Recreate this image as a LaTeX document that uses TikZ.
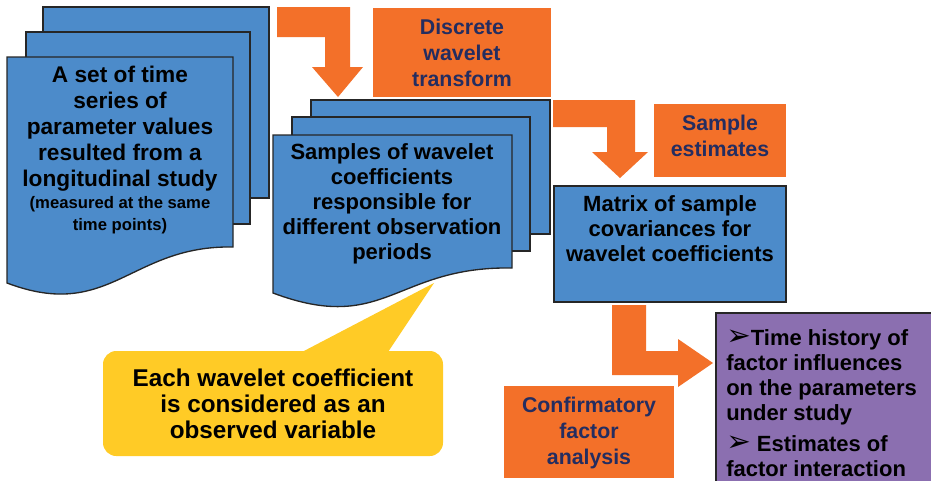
\documentclass[tikz,border=0pt]{standalone}
\usepackage{fontspec}
\setmainfont{Liberation Sans}
\newfontfamily\symfont{DejaVu Sans}
\usetikzlibrary{positioning}
\definecolor{docblue}{RGB}{76,139,202}
\definecolor{steporange}{RGB}{243,112,41}
\definecolor{labelnavy}{RGB}{36,45,96}
\definecolor{noteyellow}{RGB}{255,203,38}
\definecolor{resultpurple}{RGB}{139,111,176}
\newcommand{\smalltext}{\fontsize{12.5}{16.5}\selectfont}
\newcommand{\bulletarrow}{{\symfont\fontsize{22}{18}\selectfont ➢}}

\begin{document}
\begin{tikzpicture}[x=0.75pt,y=-0.75pt,
    sheet/.style={draw=black!85, line width=1pt, fill=docblue},
    bentarrow/.style={fill=steporange, draw=none},
    doctext/.style={font=\bfseries\fontsize{16.5}{18.75}\selectfont, align=center, inner sep=0pt},
    steplabel/.style={text=labelnavy, font=\bfseries\fontsize{16}{19.5}\selectfont, align=center, inner sep=0pt},
    notetext/.style={font=\bfseries\fontsize{18.2}{19.5}\selectfont, align=center, inner sep=0pt},
    resulttext/.style={font=\bfseries\fontsize{16.5}{18.75}\selectfont, align=left, inner sep=0pt}
]
    \useasboundingbox (0,0) rectangle (931,480);

    % Time series stack (left)
    \draw[sheet] (43,7) rectangle (269,198);
    \draw[sheet] (26,32) rectangle (250,224);
    \draw[sheet] (7,57) -- (233,57) -- (233,247)
        .. controls (130,245) and (110,322) .. (7,283) -- cycle;
    \node[doctext, font=\bfseries\fontsize{17}{19.5}\selectfont] (series) at (120,150) {A set of time\\series of\\parameter values\\resulted from a\\longitudinal study\\[-3pt]
        \smalltext(measured at the same\\[-3pt]\smalltext time points)};

    % Wavelet samples stack (middle)
    \draw[sheet] (311,100) rectangle (550,234);
    \draw[sheet] (292,117) rectangle (530,251);
    \draw[sheet] (273,135) -- (512,135) -- (512,268)
        .. controls (395,266) and (385,335) .. (273,293) -- cycle;
    \node[doctext] (samples) at (392,204) {Samples of wavelet\\coefficients\\responsible for\\different observation\\periods};

    % Covariance matrix
    \node[sheet, minimum width=174pt, minimum height=87pt] (covmat) at (670,244) {};
    \node[doctext] (covtext) at (670,229) {Matrix of sample\\covariances for\\wavelet coefficients};

    % Results
    \draw[draw=black!85, line width=1pt, fill=resultpurple] (716,313) rectangle (936,486);
    \node[resulttext, anchor=north west] (history) at (726,329)
        {\bulletarrow Time history of\\factor influences\\on the parameters\\under study};
    \node[resulttext, below=8pt of history.south west, anchor=north west] (interact)
        {\bulletarrow\ Estimates of\\factor interaction};

    % Step arrows and labels
    \fill[bentarrow] (277,7) -- (350,7) -- (350,67) -- (363,67) -- (338,97)
        -- (312,67) -- (325,67) -- (325,37) -- (277,37) -- cycle;
    \fill[bentarrow] (553,100) -- (635,100) -- (635,152) -- (648,152) -- (620,178)
        -- (592,152) -- (607,152) -- (607,127) -- (553,127) -- cycle;
    \fill[bentarrow] (612,305) -- (646,305) -- (646,351) -- (678,351) -- (678,339)
        -- (713,363) -- (678,387) -- (678,375) -- (612,375) -- cycle;
    \fill[steporange] (373,8) rectangle (551,97);
    \node[steplabel] (dwt) at (462,52.5) {Discrete\\wavelet\\transform};
    \fill[steporange] (654,104) rectangle (786,177);
    \node[steplabel] (estim) at (720,136) {Sample\\estimates};
    \fill[steporange] (504,386) rectangle (674,478);
    \node[steplabel] (cfa) at (589,433) {Confirmatory\\factor\\analysis};

    % Callout
    \fill[noteyellow, rounded corners=10pt] (103,351) rectangle (443,456);
    \fill[noteyellow] (302,352) -- (434,283) -- (388,352) -- cycle;
    \node[notetext] (note) at (273,404) {Each wavelet coefficient\\is considered as an\\observed variable};
\end{tikzpicture}
\end{document}
